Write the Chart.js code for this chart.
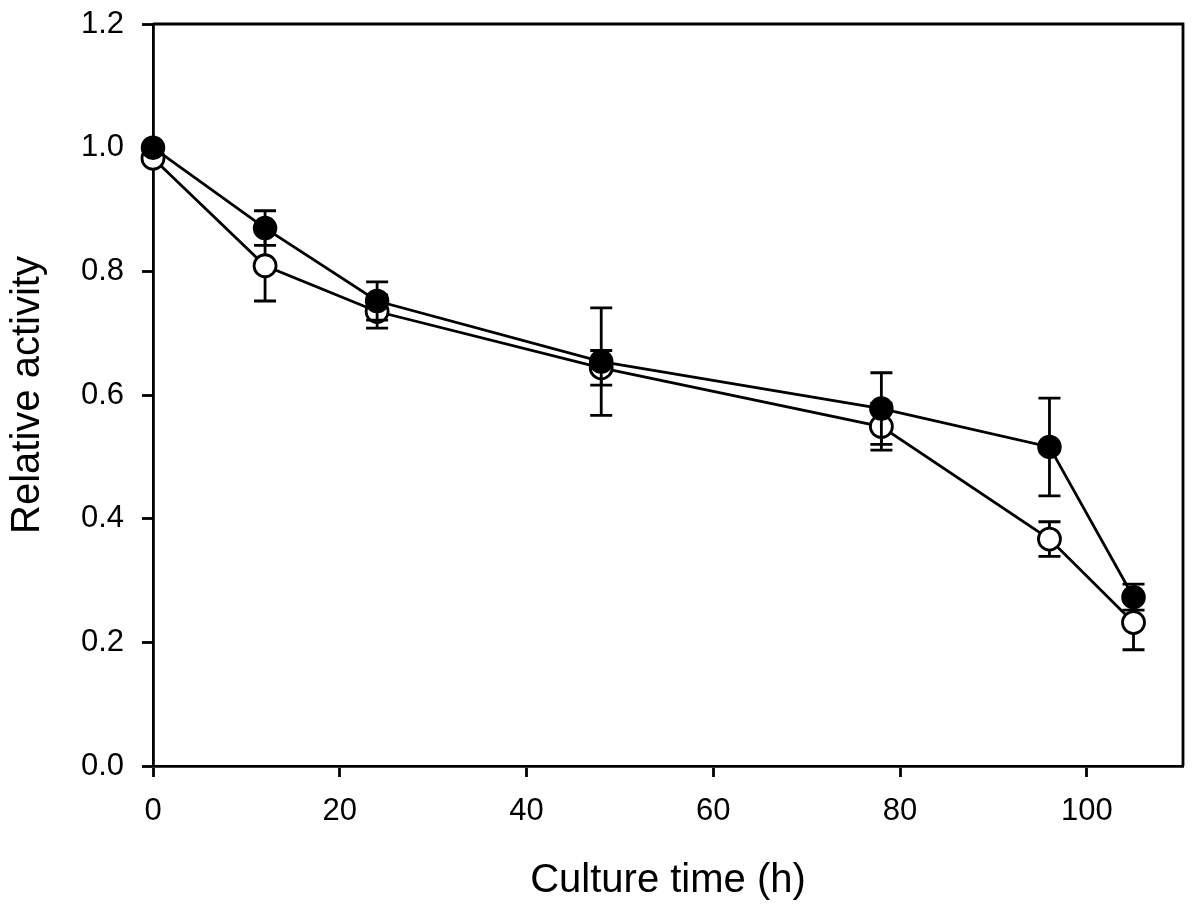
<!DOCTYPE html>
<html>
<head>
<meta charset="utf-8">
<script src="https://cdn.jsdelivr.net/npm/chart.js@4.4.1/dist/chart.umd.min.js"></script>
<style>
  html, body { margin: 0; padding: 0; background: #fff; }
  #wrap { width: 1200px; height: 909px; position: relative; }
</style>
</head>
<body>
<div id="wrap"><canvas id="chart"></canvas></div>
<script>
// culture time points (h)
const hours = [0, 12, 24, 48, 78, 96, 105];

// filled circles
const filledMean = [1.0, 0.870, 0.752, 0.654, 0.578, 0.516, 0.273];
const filledErr = [0.005, 0.028, 0.031, 0.087, 0.058, 0.079, 0.021];

// open circles
const openMean = [0.983, 0.809, 0.735, 0.644, 0.549, 0.367, 0.232];
const openErr = [0.005, 0.057, 0.027, 0.028, 0.038, 0.028, 0.044];

const xTicks = [0, 20, 40, 60, 80, 100];
const yTicks = [0, 0.2, 0.4, 0.6, 0.8, 1.0, 1.2];

const FONT = "'Liberation Sans', Arial, sans-serif";
const LW = 2.8;

const toPoints = (ys) => hours.map((h, i) => ({ x: h, y: ys[i] }));

// error bars drawn before each dataset so the symbols sit on top
const errorBars = {
    id: "errorBars",
    beforeDatasetDraw(chart, args) {
        const ds = chart.data.datasets[args.index];
        if (!ds.errors) {
            return;
        }
        const { ctx, scales } = chart;
        const cap = 11;
        ctx.save();
        ctx.strokeStyle = "#000";
        ctx.lineWidth = LW;
        ds.data.forEach((p, i) => {
            const e = ds.errors[i];
            const x = scales.x.getPixelForValue(p.x);
            const yTop = scales.y.getPixelForValue(p.y + e);
            const yBot = scales.y.getPixelForValue(p.y - e);
            ctx.beginPath();
            ctx.moveTo(x, yTop);
            ctx.lineTo(x, yBot);
            ctx.moveTo(x - cap, yTop);
            ctx.lineTo(x + cap, yTop);
            ctx.moveTo(x - cap, yBot);
            ctx.lineTo(x + cap, yBot);
            ctx.stroke();
        });
        ctx.restore();
    },
};

// closes the plot box on top and right
const frame = {
    id: "frame",
    afterDraw(chart) {
        const { ctx, chartArea: a } = chart;
        ctx.save();
        ctx.strokeStyle = "#000";
        ctx.lineWidth = LW;
        ctx.beginPath();
        ctx.moveTo(a.left, a.top);
        ctx.lineTo(a.right, a.top);
        ctx.lineTo(a.right, a.bottom);
        ctx.stroke();
        ctx.restore();
    },
};

new Chart(document.getElementById("chart"), {
    type: "line",
    data: {
        datasets: [
            {
                label: "filled",
                data: toPoints(filledMean),
                errors: filledErr,
                borderColor: "#000",
                borderWidth: LW,
                pointRadius: 11.5,
                pointHoverRadius: 11.5,
                pointBackgroundColor: "#000",
                pointBorderColor: "#000",
                pointBorderWidth: 1.5,
                tension: 0,
                clip: false,
            },
            {
                label: "open",
                data: toPoints(openMean),
                errors: openErr,
                borderColor: "#000",
                borderWidth: LW,
                pointRadius: 11,
                pointHoverRadius: 11,
                pointBackgroundColor: "#fff",
                pointBorderColor: "#000",
                pointBorderWidth: LW,
                tension: 0,
                clip: false,
            },
        ],
    },
    options: {
        responsive: true,
        maintainAspectRatio: false,
        animation: false,
        events: [],
        layout: { padding: { top: 24, right: 17, left: 0, bottom: 0 } },
        plugins: {
            legend: { display: false },
            tooltip: { enabled: false },
        },
        scales: {
            x: {
                type: "linear",
                min: 0,
                max: 110.3,
                afterBuildTicks: (axis) => {
                    axis.ticks = xTicks.map((v) => ({ value: v }));
                },
                afterFit: (axis) => {
                    axis.height = 143;
                    axis.paddingLeft = 0;
                    axis.paddingRight = 0;
                },
                border: { display: true, color: "#000", width: LW },
                grid: {
                    display: true,
                    drawOnChartArea: false,
                    drawTicks: true,
                    tickLength: 11,
                    tickWidth: LW,
                    tickColor: "#000",
                },
                ticks: {
                    color: "#000",
                    font: { family: FONT, size: 31 },
                    padding: 16,
                    maxRotation: 0,
                },
                title: {
                    display: true,
                    text: "Culture time (h)",
                    color: "#000",
                    font: { family: FONT, size: 40 },
                    padding: { top: 24 },
                },
            },
            y: {
                type: "linear",
                min: 0,
                max: 1.2,
                afterBuildTicks: (axis) => {
                    axis.ticks = yTicks.map((v) => ({ value: v }));
                },
                afterFit: (axis) => {
                    axis.width = 153;
                    axis.paddingTop = 0;
                    axis.paddingBottom = 0;
                },
                border: { display: true, color: "#000", width: LW },
                grid: {
                    display: true,
                    drawOnChartArea: false,
                    drawTicks: true,
                    tickLength: 11,
                    tickWidth: LW,
                    tickColor: "#000",
                },
                ticks: {
                    color: "#000",
                    font: { family: FONT, size: 31 },
                    padding: 18,
                    callback: (v) => v.toFixed(1),
                },
                title: {
                    display: true,
                    text: "Relative activity",
                    color: "#000",
                    font: { family: FONT, size: 40 },
                    padding: { bottom: 8 },
                },
            },
        },
    },
    plugins: [errorBars, frame],
});
</script>
</body>
</html>
